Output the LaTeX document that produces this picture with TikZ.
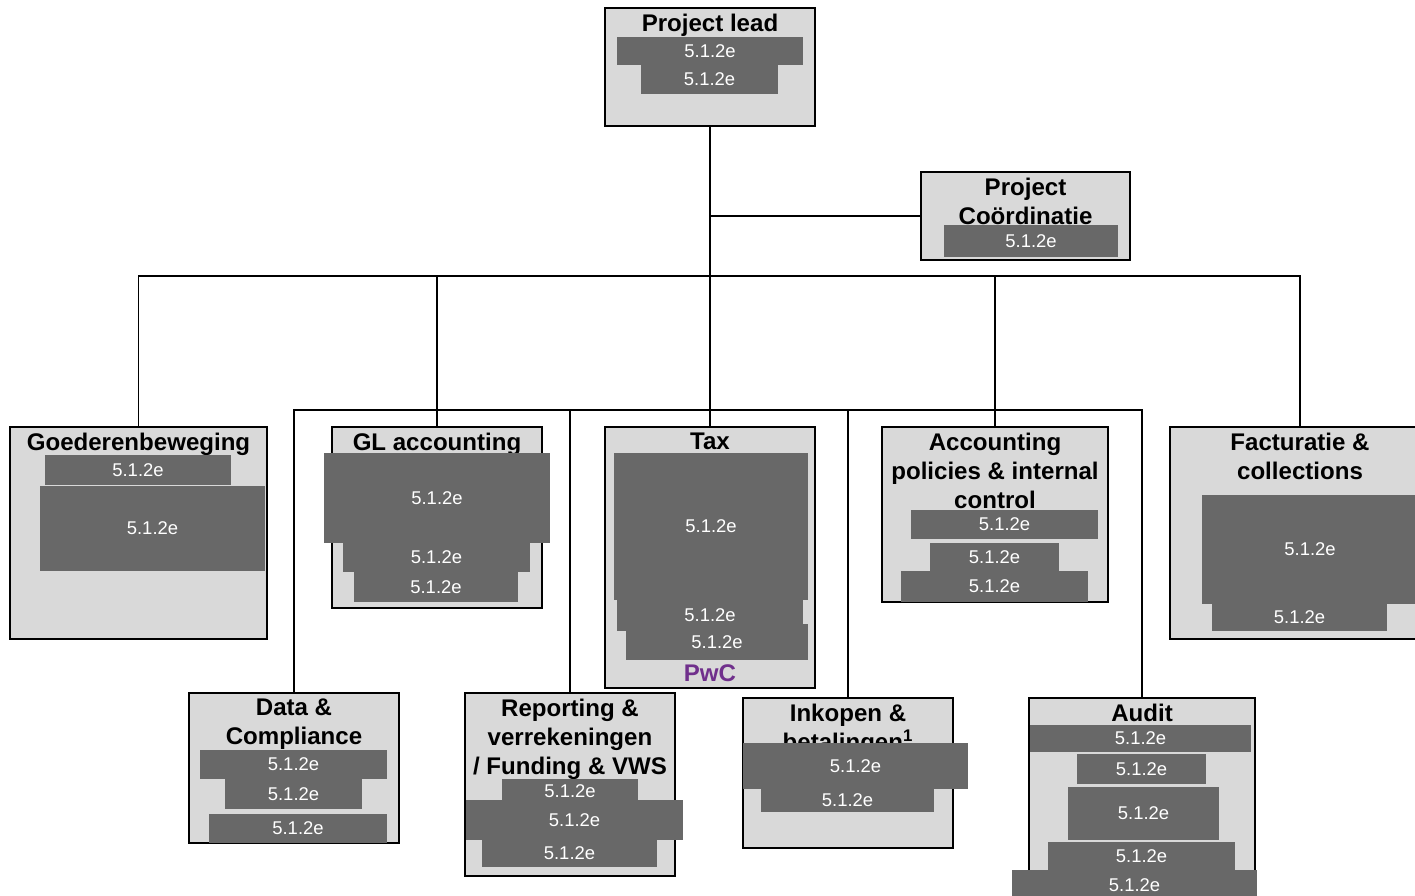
\documentclass[tikz,border=0pt]{standalone}
\usepackage{fontspec}
\setmainfont{Liberation Sans}
\definecolor{boxgray}{RGB}{217,217,217}
\definecolor{redact}{RGB}{104,104,104}
\definecolor{pwcpurple}{RGB}{112,48,140}

\begin{document}
\begin{tikzpicture}[x=0.02cm,y=-0.02cm]

\tikzstyle unit=[draw=black, line width=0.8pt, fill=boxgray, inner sep=0pt]
\tikzstyle title=[anchor=north, align=center, inner sep=0pt, yshift=-3.5pt, font=\fontsize{13.7}{16.5}\selectfont\bfseries]
\tikzstyle hidden=[fill=redact, text=white, inner sep=0pt, font=\fontsize{10.5}{12}\selectfont]
\tikzstyle link=[line width=0.8pt]

\useasboundingbox (0,0) rectangle (1415,895);

% units
\node (lead)  [unit, minimum width=4.2cm,  minimum height=2.36cm] at (710,67) {};
\node (coord) [unit, minimum width=4.18cm, minimum height=1.76cm] at (1025.5,216) {};
\node (goed)  [unit, minimum width=5.14cm, minimum height=4.24cm] at (138.5,533) {};
\node (gl)    [unit, minimum width=4.2cm,  minimum height=3.62cm] at (437,517.5) {};
\node (tax)   [unit, minimum width=4.2cm,  minimum height=5.22cm] at (710,557.5) {};
\node (acc)   [unit, minimum width=4.52cm, minimum height=3.5cm]  at (995,514.5) {};
\node (fact)  [unit, minimum width=5.2cm,  minimum height=4.24cm] at (1300,533) {};
\node (data)  [unit, minimum width=4.2cm,  minimum height=3.0cm]  at (294,768) {};
\node (rep)   [unit, minimum width=4.2cm,  minimum height=3.66cm] at (570,784.5) {};
\node (ink)   [unit, minimum width=4.2cm,  minimum height=3.0cm]  at (848,773) {};
\node (audit) [unit, minimum width=4.52cm, minimum height=4.14cm] at (1142,801.5) {};

% lines
\coordinate (bus1) at (710,276);
\coordinate (bus2) at (710,410);
\draw [link] (lead.south) -- (tax.north);
\draw [link] (lead.south |- coord.west) -- (coord.west);
\draw [link] (goed.north) |- (fact.north |- bus1) -- (fact.north);
\draw [link] (gl.north) -- (gl.north |- bus1);
\draw [link] (acc.north) -- (acc.north |- bus1);
\draw [link] (data.north) |- (audit.north |- bus2) -- (audit.north);
\draw [link] (rep.north) -- (rep.north |- bus2);
\draw [link] (ink.north) -- (ink.north |- bus2);

% titles
\node (lead-t)  [title] at (lead.north)  {Project lead};
\node (coord-t) [title] at (coord.north) {Project\\Coördinatie};
\node (goed-t)  [title] at (goed.north)  {Goederenbeweging};
\node (gl-t)    [title] at (gl.north)    {GL accounting};
\node (tax-t)   [title] at (tax.north)   {Tax};
\node (acc-t)   [title] at (acc.north)   {Accounting\\policies \& internal\\control};
\node (fact-t)  [title] at (fact.north)  {Facturatie \&\\collections};
\node (data-t)  [title] at (data.north)  {Data \&\\Compliance};
\node (rep-t)   [title] at (rep.north)   {Reporting \&\\verrekeningen\\/ Funding \& VWS};
\node (ink-t)   [title] at (ink.north)   {Inkopen \&\\betalingen\textsuperscript{1}};
\node (audit-t) [title] at (audit.north) {Audit};
\node (tax-pwc) [font=\fontsize{13.7}{16.5}\selectfont\bfseries, text=pwcpurple, inner sep=0pt] at (710,673) {PwC};

% names (redacted)
\node (lead-r1) [hidden, minimum width=3.72cm, minimum height=0.56cm] at (710,51) {5.1.2e};
\node (lead-r2) [hidden, minimum width=2.74cm, minimum height=0.58cm] at (709.5,79.5) {5.1.2e};
\node (coord-r1) [hidden, minimum width=3.48cm, minimum height=0.64cm] at (1031,241) {5.1.2e};
\node (goed-r1) [hidden, minimum width=3.72cm, minimum height=0.6cm] at (138,470) {5.1.2e};
\node (goed-r2) [hidden, minimum width=4.5cm, minimum height=1.7cm] at (152.5,528.5) {5.1.2e};
\node (gl-r1) [hidden, minimum width=4.52cm, minimum height=1.8cm] at (437,498) {5.1.2e};
\node (gl-r2) [hidden, minimum width=3.74cm, minimum height=0.58cm] at (436.5,557.5) {5.1.2e};
\node (gl-r3) [hidden, minimum width=3.28cm, minimum height=0.6cm] at (436,587) {5.1.2e};
\node (tax-r1) [hidden, minimum width=3.88cm, minimum height=2.94cm] at (711,526.5) {5.1.2e};
\node (tax-r2) [hidden, minimum width=3.72cm, minimum height=0.62cm] at (710,615.5) {5.1.2e};
\node (tax-r3) [hidden, minimum width=3.64cm, minimum height=0.72cm] at (717,642) {5.1.2e};
\node (acc-r1) [hidden, minimum width=3.74cm, minimum height=0.58cm] at (1004.5,524.5) {5.1.2e};
\node (acc-r2) [hidden, minimum width=2.58cm, minimum height=0.56cm] at (994.5,557) {5.1.2e};
\node (acc-r3) [hidden, minimum width=3.74cm, minimum height=0.62cm] at (994.5,586.5) {5.1.2e};
\node (fact-r1) [hidden, minimum width=4.32cm, minimum height=2.18cm] at (1310,549.5) {5.1.2e};
\node (fact-r2) [hidden, minimum width=3.5cm, minimum height=0.54cm] at (1299.5,617.5) {5.1.2e};
\node (data-r1) [hidden, minimum width=3.74cm, minimum height=0.58cm] at (293.5,764.5) {5.1.2e};
\node (data-r2) [hidden, minimum width=2.74cm, minimum height=0.6cm] at (293.5,794) {5.1.2e};
\node (data-r3) [hidden, minimum width=3.56cm, minimum height=0.58cm] at (298,828.5) {5.1.2e};
\node (rep-r2) [hidden, minimum width=4.34cm, minimum height=0.8cm] at (574.5,820) {5.1.2e};
\node (rep-r3) [hidden, minimum width=3.5cm, minimum height=0.54cm] at (569.5,853.5) {5.1.2e};
\node (rep-r1) [hidden, minimum width=2.72cm, minimum height=0.48cm] at (570,791) {5.1.2e};
\node (ink-r1) [hidden, minimum width=4.5cm, minimum height=0.92cm] at (855.5,766) {5.1.2e};
\node (ink-r2) [hidden, minimum width=3.46cm, minimum height=0.46cm] at (847.5,800.5) {5.1.2e};
\node (audit-r1) [hidden, minimum width=4.42cm, minimum height=0.54cm] at (1140.5,738.5) {5.1.2e};
\node (audit-r2) [hidden, minimum width=2.58cm, minimum height=0.6cm] at (1141.5,769) {5.1.2e};
\node (audit-r3) [hidden, minimum width=3.02cm, minimum height=1.06cm] at (1143.5,813.5) {5.1.2e};
\node (audit-r4) [hidden, minimum width=3.74cm, minimum height=0.56cm] at (1141.5,856) {5.1.2e};
\node (audit-r5) [hidden, minimum width=4.9cm, minimum height=0.6cm] at (1134.5,885) {5.1.2e};

\end{tikzpicture}
\end{document}
